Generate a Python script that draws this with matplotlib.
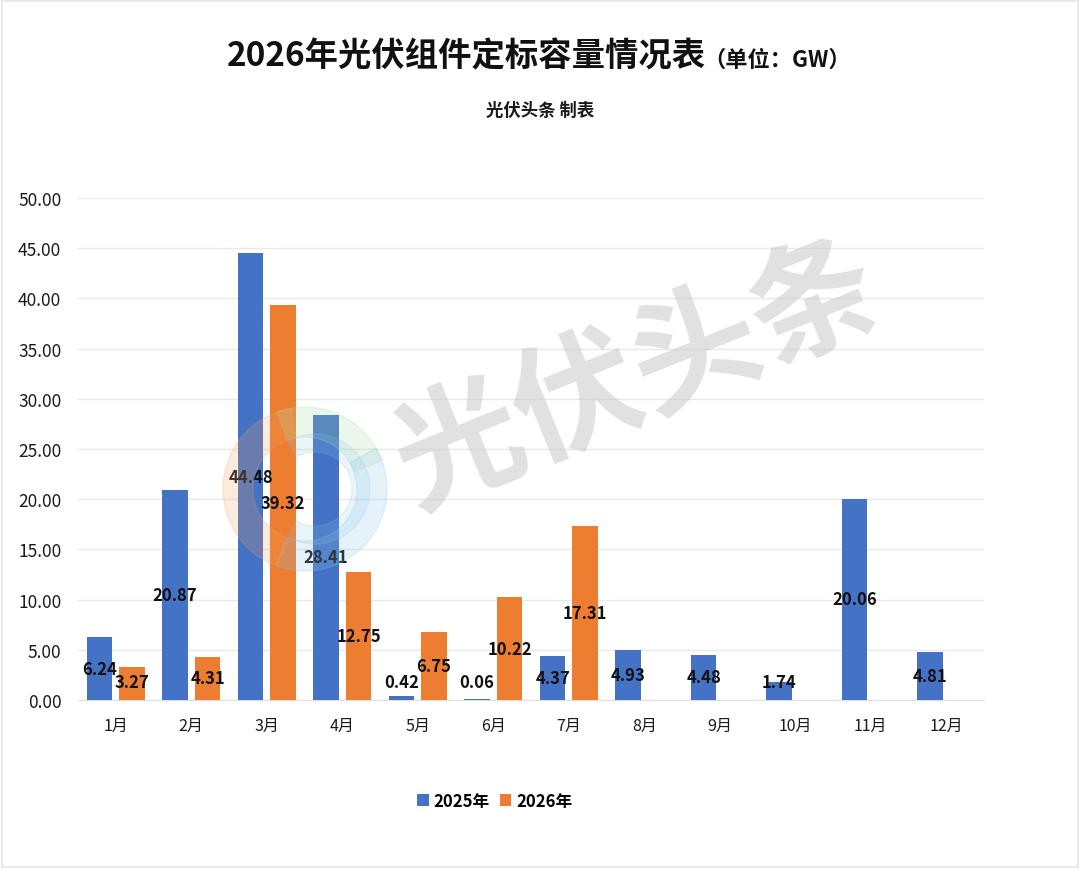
import matplotlib
matplotlib.use("Agg")
import matplotlib.pyplot as plt
import numpy as np
from matplotlib.patches import Rectangle, Wedge

plt.rcParams["font.family"] = ["Noto Sans CJK SC", "DejaVu Sans"]

months = ["1月", "2月", "3月", "4月", "5月", "6月",
          "7月", "8月", "9月", "10月", "11月", "12月"]
vals_2025 = [6.24, 20.87, 44.48, 28.41, 0.42, 0.06,
             4.37, 4.93, 4.48, 1.74, 20.06, 4.81]
vals_2026 = [3.27, 4.31, 39.32, 12.75, 6.75, 10.22, 17.31]
series_names = ["2025年", "2026年"]
colors = ["#4472C4", "#ED7D31"]

fig = plt.figure(figsize=(10.8, 8.7), dpi=100)
fig.patch.set_facecolor("white")
fig.add_artist(Rectangle((0.002, 0.002), 0.996, 0.996, transform=fig.transFigure,
                         fill=False, edgecolor="#e6e6e6", linewidth=1.2))

ax = fig.add_axes([0.0722, 0.1943, 0.839, 0.577])
ax.set_xlim(-0.5, 11.5)
ax.set_ylim(0, 50)

width = 0.34
offset = 0.215
x = np.arange(len(months))
series = [vals_2025, vals_2026]
for k, vals in enumerate(series):
    xs = x[:len(vals)] + (-offset if k == 0 else offset)
    ax.bar(xs, vals, width=width, color=colors[k], label=series_names[k], zorder=3)
    for xi, v in zip(xs, vals):
        ax.text(xi, max(v / 2, 1.75), f"{v:.2f}", ha="center", va="center",
                fontsize=12, fontweight="bold", color="#111111", zorder=5)

ax.set_yticks(np.arange(0, 51, 5))
ax.set_yticklabels([f"{t:.2f}" for t in np.arange(0, 51, 5)])
ax.set_xticks(x)
ax.set_xticklabels(months)
ax.tick_params(axis="y", length=0, pad=12, labelsize=12.5, colors="#1a1a1a")
ax.tick_params(axis="x", length=0, pad=12, labelsize=11.5, colors="#1a1a1a")
ax.grid(axis="y", color="#e9e9e9", linewidth=1, zorder=0)
for side in ["top", "right", "left"]:
    ax.spines[side].set_visible(False)
ax.spines["bottom"].set_color("#e0e0e0")

# watermark
fig.text(0.59, 0.565, "光伏头条", fontsize=92, fontweight="bold", color="#c4c4c4",
         alpha=0.5, rotation=22, ha="center", va="center", zorder=0)
cx, cy = 305, 380
for th1, th2, col in [(100, 250, "#f4a460"), (20, 110, "#a8dca8"), (-110, 30, "#8cc6ea")]:
    fig.add_artist(Wedge((cx, cy), 82, th1, th2, width=30,
                         transform=None, color=col, alpha=0.22, zorder=1))
fig.add_artist(Wedge((cx + 10, cy), 55, -120, 120, width=18,
                     transform=None, color="#8cc6ea", alpha=0.18, zorder=1))

# titles
fig.text(0.432, 0.934, "2026年光伏组件定标容量情况表", fontsize=24, fontweight="bold",
         ha="center", va="center", color="#111111")
fig.text(0.651, 0.931, "（单位：GW）", fontsize=16, fontweight="bold",
         ha="left", va="center", color="#111111")
fig.text(0.5, 0.873, "光伏头条 制表", fontsize=12.5, ha="center", va="center",
         color="#1a1a1a", fontweight=600)

leg = fig.legend(loc="center", bbox_to_anchor=(0.458, 0.078), ncol=2, frameon=False,
                 handlelength=0.7, handleheight=0.7, handletextpad=0.3, columnspacing=0.6,
                 prop={"size": 12, "weight": "bold"})

fig.savefig("out.png", dpi=100)
